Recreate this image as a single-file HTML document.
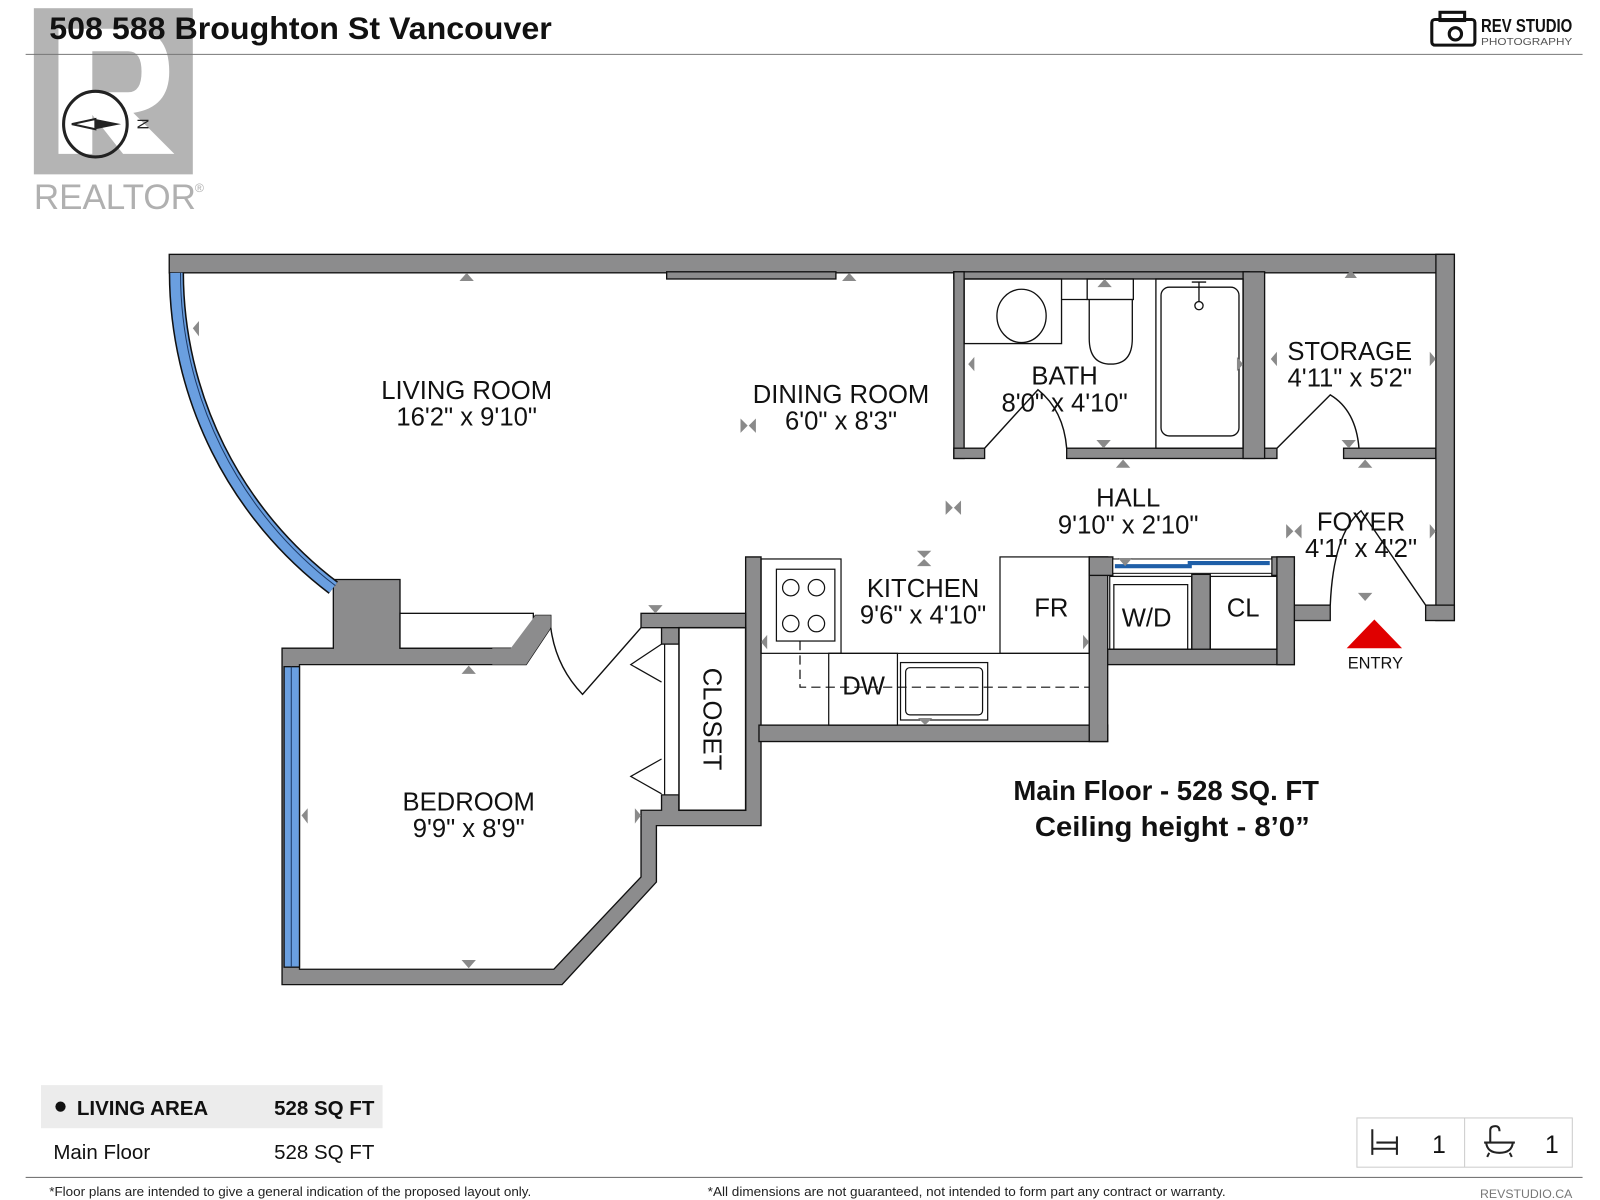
<!DOCTYPE html>
<html><head><meta charset="utf-8"><style>
html,body{margin:0;padding:0;background:#fff;}
svg{display:block;}
text{font-family:"Liberation Sans",sans-serif;}
.rm{font-size:25px;fill:#111;text-anchor:middle;}
.cn{font-family:"Liberation Sans Narrow","Liberation Sans",sans-serif;}
</style></head><body>
<svg width="1600" height="1200" viewBox="0 0 1560 1170" xmlns="http://www.w3.org/2000/svg">
<!-- realtor watermark -->
<rect x="33" y="8" width="155" height="162" fill="#b4b4b4"/>
<path d="M57 28 H128 Q165 28 165 70 Q165 105 130 110 L170 150 H120 L90 112 V150 H57 Z" fill="#fff"/>
<path d="M90 50 H125 Q138 50 138 70 Q138 90 125 90 H90 Z" fill="#b4b4b4"/>
<text x="33" y="204" font-size="34" fill="#b0b0b0" textLength="158" lengthAdjust="spacingAndGlyphs">REALTOR</text>
<text x="190" y="187" font-size="12" fill="#b0b0b0">®</text>
<!-- compass -->
<ellipse cx="93" cy="121" rx="31" ry="32" fill="none" stroke="#222" stroke-width="3"/>
<path d="M70 121 L93 116 L93 126 Z" fill="#fff" stroke="#222" stroke-width="2"/>
<path d="M93 116 L118 121 L93 126 Z" fill="#222"/>
<text x="134" y="121" font-size="15" fill="#222" transform="rotate(90 134 121)" text-anchor="middle">N</text>
<!-- title -->
<text x="48" y="38" font-size="31" font-weight="bold" fill="#111" class="cn" textLength="490" lengthAdjust="spacingAndGlyphs">508 588 Broughton St Vancouver</text>
<line x1="25" y1="53" x2="1543" y2="53" stroke="#777" stroke-width="1"/>
<!-- rev studio logo -->
<g fill="none" stroke="#111" stroke-width="3">
<rect x="1396" y="19" width="42" height="25" rx="3"/>
<rect x="1404" y="12" width="24" height="8"/>
<circle cx="1419" cy="33" r="6"/>
</g>
<text x="1444" y="31" font-size="18" font-weight="bold" fill="#111" class="cn" textLength="89" lengthAdjust="spacingAndGlyphs">REV STUDIO</text>
<text x="1444" y="44" font-size="10" fill="#555" textLength="89" lengthAdjust="spacingAndGlyphs">PHOTOGRAPHY</text>

<!-- WALLS -->
<g fill="#8c8c8d" stroke="#111" stroke-width="1.3">
<rect x="165" y="248" width="1253" height="18"/>
<rect x="650" y="265" width="165" height="7"/>
<rect x="930" y="265" width="288" height="7"/>
<rect x="930" y="265" width="10" height="182"/>
<rect x="930" y="437" width="30" height="10"/>
<rect x="1040" y="437" width="205" height="10"/>
<rect x="1212" y="265" width="21" height="182"/>
<rect x="1310" y="437" width="90" height="10"/>
<rect x="1400" y="248" width="18" height="357"/>
<rect x="1390" y="590" width="28" height="15"/>
<rect x="1262" y="590" width="35" height="15"/>
<path d="M275 632 L325 632 L325 565 L390 565 L390 632 L498 632 L522 600 L537 600 L537 612 L513 648 L292 648 L292 945 L540 945 L625 855 L625 790 L645 790 L645 775 L662 775 L662 790 L727 790 L727 543 L742 543 L742 805 L640 805 L640 860 L548 960 L275 960 Z"/>
<rect x="625" y="598" width="102" height="14"/>
<rect x="645" y="612" width="17" height="16"/>
<rect x="740" y="707" width="340" height="16"/>
<rect x="1062" y="543" width="18" height="180"/>
<rect x="1062" y="543" width="23" height="18"/>
<rect x="1240" y="543" width="22" height="18"/>
<rect x="1162" y="560" width="18" height="75"/>
<rect x="1080" y="633" width="182" height="15"/>
<rect x="1245" y="543" width="17" height="105"/>
</g>
<!-- ledge box -->
<rect x="390" y="598" width="130" height="34" fill="#fff" stroke="#111" stroke-width="1.3"/>
<path d="M498 632 L522 600 L537 600 L537 612 L513 648 L480 648 L480 632 Z" fill="#8c8c8d"/>
<!-- windows -->
<path d="M172 266 A386 386 0 0 0 325 573" fill="none" stroke="#111" stroke-width="15"/>
<path d="M172 266 A386 386 0 0 0 325 573" fill="none" stroke="#6a9fe0" stroke-width="12"/>
<path d="M176 266 A383 383 0 0 0 327 571" fill="none" stroke="#1d3a66" stroke-width="1"/>
<rect x="277" y="650" width="15" height="293" fill="#6a9fe0" stroke="#111" stroke-width="1.3"/>
<line x1="284" y1="650" x2="284" y2="943" stroke="#1d3a66" stroke-width="1"/>
<!-- laundry sliding door -->
<rect x="1085" y="545" width="155" height="14" fill="#fff" stroke="#111" stroke-width="1"/>
<path d="M1087 552 H1160 V549 H1238" fill="none" stroke="#1f5fa8" stroke-width="4"/>
<!-- closet -->
<rect x="662" y="612" width="65" height="178" fill="#fff" stroke="#111" stroke-width="1.5"/>
<line x1="648" y1="628" x2="648" y2="775" stroke="#111" stroke-width="1.2"/>
<path d="M645 628 L615 648 L645 665 M645 740 L615 757 L645 774" fill="none" stroke="#111" stroke-width="1.2"/>
<!-- doors -->
<g fill="none" stroke="#111" stroke-width="1.4">
<path d="M537 612 Q542 650 568 677 L625 612"/>
<path d="M960 437 L1012 380 Q1037 400 1040 437"/>
<path d="M1245 437 L1297 385 Q1322 400 1325 437"/>
<path d="M1297 590 Q1300 520 1327 498 L1390 590"/>
</g>
<!-- bath fixtures -->
<g fill="none" stroke="#111" stroke-width="1.3">
<rect x="940" y="272" width="95" height="63"/>
<ellipse cx="996" cy="308" rx="24" ry="26"/>
<path d="M1035 292 H1060"/>
<rect x="1060" y="272" width="45" height="20"/>
<path d="M1062 292 V330 Q1062 355 1083 355 Q1104 355 1104 330 V292"/>
<rect x="1127" y="272" width="85" height="165"/>
<rect x="1132" y="280" width="76" height="145" rx="8"/>
<circle cx="1169" cy="298" r="4"/>
<path d="M1169 275 V294 M1162 275 H1176"/>
</g>
<!-- kitchen fixtures -->
<g fill="none" stroke="#111" stroke-width="1.2">
<rect x="742" y="545" width="78" height="92"/>
<rect x="757" y="555" width="57" height="70"/>
<circle cx="771" cy="573" r="8"/><circle cx="796" cy="573" r="8"/>
<circle cx="771" cy="608" r="8"/><circle cx="796" cy="608" r="8"/>
<path d="M780 625 V670 H1062" stroke-dasharray="9 5"/>
<rect x="975" y="543" width="87" height="94"/>
<path d="M808 637 H1062"/>
<rect x="808" y="637" width="67" height="70"/>
<rect x="878" y="646" width="85" height="56"/>
<rect x="883" y="651" width="75" height="46" rx="4"/>
<rect x="1082" y="562" width="80" height="71"/>
<rect x="1086" y="570" width="72" height="63"/>
<rect x="1180" y="562" width="65" height="71"/>
</g>
<!-- markers -->
<g fill="#8a8a8a">
<path d="M448 274 L455 266 L462 274 Z"/><path d="M821 274 L828 266 L835 274 Z"/>
<path d="M1311 271 L1317 263 L1323 271Z"/><path d="M1070 280 L1077 272 L1084 280Z"/>
<path d="M188 320 L194 313 L194 328Z"/><path d="M944 355 L950 348 L950 362Z"/>
<path d="M1212 355 L1206 348 L1206 362Z"/><path d="M1239 350 L1245 343 L1245 357Z"/>
<path d="M1400 350 L1394 343 L1394 357Z"/><path d="M1069 429 L1076 437 L1083 429Z"/>
<path d="M1308 429 L1315 437 L1322 429Z"/><path d="M1088 456 L1095 448 L1102 456Z"/>
<path d="M1324 456 L1331 448 L1338 456Z"/><path d="M1090 544 L1097 552 L1104 544Z"/>
<path d="M1400 518 L1394 511 L1394 525Z"/><path d="M1324 578 L1331 586 L1338 578Z"/>
<path d="M722 408 L729 415 L722 422Z M737 408 L730 415 L737 422Z"/>
<path d="M922 488 L929 495 L922 502Z M937 488 L930 495 L937 502Z"/>
<path d="M1254 511 L1261 518 L1254 525Z M1269 511 L1262 518 L1269 525Z"/>
<path d="M894 537 L901 544 L908 537Z M894 552 L901 545 L908 552Z"/>
<path d="M632 590 L639 598 L646 590Z"/><path d="M450 657 L457 649 L464 657Z"/>
<path d="M450 936 L457 944 L464 936Z"/><path d="M294 795 L300 788 L300 803Z"/>
<path d="M625 795 L619 788 L619 803Z"/><path d="M742 626 L748 619 L748 633Z"/>
<path d="M1062 626 L1056 619 L1056 633Z"/><path d="M895 700 L902 707 L909 700Z"/>
</g>
<!-- labels -->
<text class="rm" x="455" y="389">LIVING ROOM</text><text class="rm" x="455" y="415">16'2" x 9'10"</text>
<text class="rm" x="820" y="393">DINING ROOM</text><text class="rm" x="820" y="419">6'0" x 8'3"</text>
<text class="rm" x="1038" y="375">BATH</text><text class="rm" x="1038" y="401">8'0" x 4'10"</text>
<text class="rm" x="1316" y="351">STORAGE</text><text class="rm" x="1316" y="377">4'11" x 5'2"</text>
<text class="rm" x="1100" y="494">HALL</text><text class="rm" x="1100" y="520">9'10" x 2'10"</text>
<text class="rm" x="1327" y="517">FOYER</text><text class="rm" x="1327" y="543">4'1" x 4'2"</text>
<text class="rm" x="900" y="582">KITCHEN</text><text class="rm" x="900" y="608">9'6" x 4'10"</text>
<text class="rm" x="1025" y="601">FR</text>
<text class="rm" x="1118" y="611">W/D</text>
<text class="rm" x="1212" y="601">CL</text>
<text class="rm" x="842" y="677">DW</text>
<text class="rm" x="457" y="790">BEDROOM</text><text class="rm" x="457" y="816">9'9" x 8'9"</text>
<text class="rm" x="0" y="0" transform="translate(686 701) rotate(90)">CLOSET</text>
<path d="M1313 632 L1340 604 L1367 632 Z" fill="#e00000"/>
<text x="1341" y="652" font-size="16" fill="#111" text-anchor="middle" class="cn">ENTRY</text>
<text x="1137" y="780" font-size="27" font-weight="bold" fill="#111" text-anchor="middle" class="cn" textLength="298" lengthAdjust="spacingAndGlyphs">Main Floor - 528 SQ. FT</text>
<text x="1143" y="815" font-size="27" font-weight="bold" fill="#111" text-anchor="middle" class="cn" textLength="268" lengthAdjust="spacingAndGlyphs">Ceiling height - 8’0”</text>
<!-- bottom table -->
<rect x="40" y="1058" width="333" height="42" fill="#ececec"/>
<circle cx="59" cy="1079" r="5" fill="#111"/>
<text x="75" y="1087" font-size="20" font-weight="bold" fill="#111" class="cn" textLength="128" lengthAdjust="spacingAndGlyphs">LIVING AREA</text>
<text x="365" y="1087" font-size="20" font-weight="bold" fill="#111" text-anchor="end" class="cn">528 SQ FT</text>
<text x="52" y="1130" font-size="20" fill="#111" class="cn">Main Floor</text>
<text x="365" y="1130" font-size="20" fill="#111" text-anchor="end" class="cn">528 SQ FT</text>
<rect x="1323" y="1090" width="210" height="48" fill="#fff" stroke="#ccc" stroke-width="1"/>
<line x1="1428" y1="1090" x2="1428" y2="1138" stroke="#ccc"/>
<g fill="none" stroke="#222" stroke-width="2">
<path d="M1338 1101 V1126 M1338 1120 H1362 M1362 1108 V1126 M1342 1114 H1362"/>
<path d="M1447 1114 H1477 M1449 1114 Q1450 1124 1462 1124 Q1474 1124 1475 1114 M1452 1124 L1450 1128 M1472 1124 L1474 1128 M1453 1114 V1102 Q1453 1098 1458 1098 Q1462 1098 1462 1103"/>
</g>
<text x="1403" y="1124" font-size="24" fill="#111" text-anchor="middle">1</text>
<text x="1513" y="1124" font-size="24" fill="#111" text-anchor="middle">1</text>
<line x1="25" y1="1148" x2="1543" y2="1148" stroke="#777" stroke-width="1"/>
<text x="48" y="1166" font-size="13" fill="#222" class="cn" textLength="470" lengthAdjust="spacingAndGlyphs">*Floor plans are intended to give a general indication of the proposed layout only.</text>
<text x="690" y="1166" font-size="13" fill="#222" class="cn" textLength="505" lengthAdjust="spacingAndGlyphs">*All dimensions are not guaranteed, not intended to form part any contract or warranty.</text>
<text x="1533" y="1168" font-size="12" fill="#777" text-anchor="end" class="cn">REVSTUDIO.CA</text>
</svg>
</body></html>
